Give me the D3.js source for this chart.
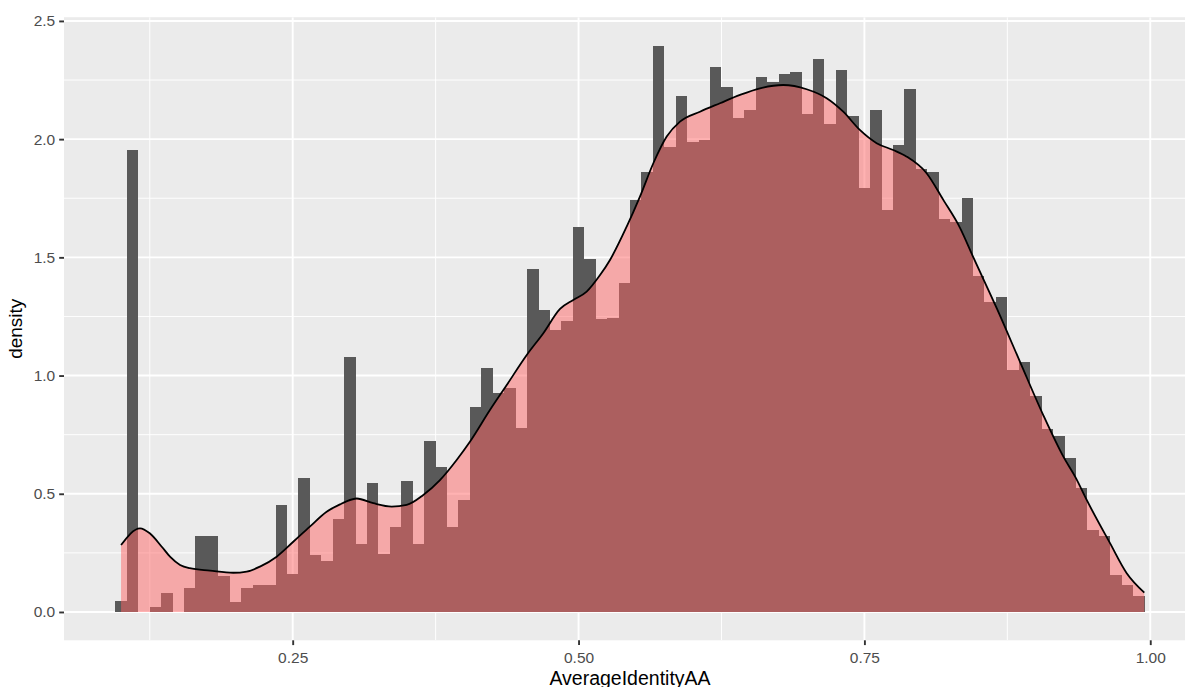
<!DOCTYPE html>
<html>
<head>
<meta charset="utf-8">
<script src="https://cdn.jsdelivr.net/npm/d3@7/dist/d3.min.js"></script>
<style>
  html, body { margin: 0; padding: 0; background: #ffffff; overflow: hidden; }
  svg { display: block; }
</style>
</head>
<body>
<div id="chart"></div>
<script>
// Histogram of AverageIdentityAA (bin width 0.01), shown as density
const binWidth = 0.01;
const binCenters = [
  0.10, 0.11, 0.12, 0.13, 0.14, 0.15, 0.16, 0.17, 0.18, 0.19,
  0.20, 0.21, 0.22, 0.23, 0.24, 0.25, 0.26, 0.27, 0.28, 0.29,
  0.30, 0.31, 0.32, 0.33, 0.34, 0.35, 0.36, 0.37, 0.38, 0.39,
  0.40, 0.41, 0.42, 0.43, 0.44, 0.45, 0.46, 0.47, 0.48, 0.49,
  0.50, 0.51, 0.52, 0.53, 0.54, 0.55, 0.56, 0.57, 0.58, 0.59,
  0.60, 0.61, 0.62, 0.63, 0.64, 0.65, 0.66, 0.67, 0.68, 0.69,
  0.70, 0.71, 0.72, 0.73, 0.74, 0.75, 0.76, 0.77, 0.78, 0.79,
  0.80, 0.81, 0.82, 0.83, 0.84, 0.85, 0.86, 0.87, 0.88, 0.89,
  0.90, 0.91, 0.92, 0.93, 0.94, 0.95, 0.96, 0.97, 0.98, 0.99
];
const binDensity = [
  0.045, 1.954, 0.000, 0.019, 0.079, 0.000, 0.100, 0.323, 0.323, 0.154,
  0.041, 0.100, 0.114, 0.114, 0.451, 0.162, 0.568, 0.242, 0.217, 0.392,
  1.080, 0.286, 0.546, 0.244, 0.361, 0.554, 0.286, 0.723, 0.613, 0.361,
  0.475, 0.866, 1.034, 0.926, 0.946, 0.780, 1.451, 1.277, 1.193, 1.232,
  1.630, 1.495, 1.238, 1.244, 1.393, 1.744, 1.860, 2.396, 1.968, 2.184,
  1.988, 1.995, 2.307, 2.222, 2.091, 2.124, 2.264, 2.243, 2.274, 2.286,
  2.105, 2.339, 2.063, 2.293, 2.097, 1.792, 2.124, 1.699, 1.975, 2.211,
  1.873, 1.860, 1.664, 1.651, 1.753, 1.421, 1.313, 1.332, 1.022, 1.056,
  0.914, 0.773, 0.745, 0.650, 0.526, 0.347, 0.323, 0.157, 0.114, 0.068
];

// Kernel density estimate of the same variable
const densityX = [
  0.0999, 0.1165, 0.1250, 0.1355, 0.1427, 0.1515, 0.1600, 0.1777, 0.1980, 0.2098,
  0.2214, 0.2360, 0.2505, 0.2650, 0.2797, 0.2914, 0.2970, 0.3060, 0.3205, 0.3366,
  0.3497, 0.3642, 0.3788, 0.3934, 0.4050, 0.4225, 0.4372, 0.4547, 0.4692, 0.4838,
  0.4954, 0.5071, 0.5188, 0.5275, 0.5421, 0.5537, 0.5654, 0.5771, 0.5887, 0.6062,
  0.6237, 0.6412, 0.6587, 0.6790, 0.6995, 0.7170, 0.7315, 0.7460, 0.7607, 0.7752,
  0.7870, 0.8044, 0.8190, 0.8336, 0.8450, 0.8657, 0.8860, 0.9064, 0.9240, 0.9350,
  0.9444, 0.9648, 0.9794, 0.9948
];
const densityY = [
  0.283, 0.354, 0.333, 0.276, 0.234, 0.199, 0.185, 0.175, 0.166, 0.171,
  0.192, 0.234, 0.297, 0.361, 0.424, 0.455, 0.468, 0.480, 0.460, 0.446,
  0.453, 0.495, 0.558, 0.643, 0.720, 0.854, 0.960, 1.087, 1.179, 1.282,
  1.320, 1.355, 1.425, 1.489, 1.630, 1.757, 1.898, 2.011, 2.074, 2.116,
  2.152, 2.187, 2.215, 2.229, 2.211, 2.173, 2.116, 2.039, 1.983, 1.954,
  1.926, 1.856, 1.743, 1.625, 1.503, 1.285, 1.059, 0.833, 0.657, 0.566,
  0.474, 0.291, 0.164, 0.082
];

// Axis breaks
const xMajor = [0.25, 0.50, 0.75, 1.00];
const xMinor = [0.125, 0.375, 0.625, 0.875];
const yMajor = [0.0, 0.5, 1.0, 1.5, 2.0, 2.5];
const yMinor = [0.25, 0.75, 1.25, 1.75, 2.25];
const xTitle = "AverageIdentityAA";
const yTitle = "density";

const W = 1185, H = 687;
const panel = { left: 64, right: 1196, top: 17.2, bottom: 640.3 };

// Data ranges expanded by 5% on each side
const xLo = binCenters[0] - binWidth / 2;
const xHi = binCenters[binCenters.length - 1] + binWidth / 2;
const xPad = (xHi - xLo) * 0.05;
const yHi = Math.max(d3.max(binDensity), d3.max(densityY));
const yPad = yHi * 0.05;

const x = d3.scaleLinear().domain([xLo - xPad, xHi + xPad]).range([panel.left, panel.right]);
const y = d3.scaleLinear().domain([-yPad, yHi + yPad]).range([panel.bottom, panel.top]);

const svg = d3.select("#chart").append("svg")
  .attr("width", W).attr("height", H)
  .style("font-family", "'Liberation Sans', Arial, Helvetica, sans-serif");

svg.append("defs").append("clipPath").attr("id", "panel-clip")
  .append("rect")
  .attr("x", panel.left).attr("y", panel.top)
  .attr("width", panel.right - panel.left).attr("height", panel.bottom - panel.top);

// Panel background
svg.append("rect")
  .attr("x", panel.left).attr("y", panel.top)
  .attr("width", panel.right - panel.left).attr("height", panel.bottom - panel.top)
  .attr("fill", "#EBEBEB");

const grid = svg.append("g").attr("clip-path", "url(#panel-clip)");
grid.selectAll("line.ymin").data(yMinor).join("line")
  .attr("x1", panel.left).attr("x2", panel.right)
  .attr("y1", d => y(d)).attr("y2", d => y(d))
  .attr("stroke", "#ffffff").attr("stroke-width", 0.95);
grid.selectAll("line.xmin").data(xMinor).join("line")
  .attr("y1", panel.top).attr("y2", panel.bottom)
  .attr("x1", d => x(d)).attr("x2", d => x(d))
  .attr("stroke", "#ffffff").attr("stroke-width", 0.95);
grid.selectAll("line.ymaj").data(yMajor).join("line")
  .attr("x1", panel.left).attr("x2", panel.right)
  .attr("y1", d => y(d)).attr("y2", d => y(d))
  .attr("stroke", "#ffffff").attr("stroke-width", 1.9);
grid.selectAll("line.xmaj").data(xMajor).join("line")
  .attr("y1", panel.top).attr("y2", panel.bottom)
  .attr("x1", d => x(d)).attr("x2", d => x(d))
  .attr("stroke", "#ffffff").attr("stroke-width", 1.9);

const plot = svg.append("g").attr("clip-path", "url(#panel-clip)");

// Histogram bars
const bins = binCenters.map((c, i) => ({ x0: c - binWidth / 2, x1: c + binWidth / 2, d: binDensity[i] }));
plot.append("g")
  .attr("shape-rendering", "crispEdges")
  .selectAll("rect.bar").data(bins).join("rect")
  .attr("class", "bar")
  .attr("x", b => x(b.x0))
  .attr("width", b => x(b.x1) - x(b.x0))
  .attr("y", b => y(b.d))
  .attr("height", b => y(0) - y(b.d))
  .attr("fill", "#595959");

// Density overlay
const pts = densityX.map((v, i) => [v, densityY[i]]);
const area = d3.area()
  .x(p => x(p[0])).y0(y(0)).y1(p => y(p[1]))
  .curve(d3.curveMonotoneX);
const line = d3.line()
  .x(p => x(p[0])).y(p => y(p[1]))
  .curve(d3.curveMonotoneX);

plot.append("path").datum(pts)
  .attr("d", area)
  .attr("fill", "#FF6666").attr("fill-opacity", 0.5);
plot.append("path").datum(pts)
  .attr("d", line)
  .attr("fill", "none").attr("stroke", "#000000")
  .attr("stroke-width", 1.8).attr("stroke-linejoin", "round");

// Axes
const xAxis = svg.append("g")
  .attr("transform", `translate(0,${panel.bottom})`)
  .call(d3.axisBottom(x).tickValues(xMajor).tickFormat(d3.format(".2f")).tickSize(4.8).tickPadding(6.5));
const yAxis = svg.append("g")
  .attr("transform", `translate(${panel.left},0)`)
  .call(d3.axisLeft(y).tickValues(yMajor).tickFormat(d3.format(".1f")).tickSize(4.8).tickPadding(4));

[xAxis, yAxis].forEach(a => {
  a.select(".domain").remove();
  a.selectAll(".tick line").attr("stroke", "#333333").attr("stroke-width", 1.9);
  a.selectAll(".tick text")
    .attr("fill", "#4D4D4D")
    .style("font-size", "15.5px")
    .style("font-family", "'Liberation Sans', Arial, Helvetica, sans-serif");
});

// Axis titles
svg.append("text")
  .attr("x", (panel.left + panel.right) / 2)
  .attr("y", 684.5)
  .attr("text-anchor", "middle")
  .attr("fill", "#000000")
  .style("font-size", "19.5px")
  .text(xTitle);

svg.append("text")
  .attr("transform", `translate(22,${(panel.top + panel.bottom) / 2}) rotate(-90)`)
  .attr("text-anchor", "middle")
  .attr("fill", "#000000")
  .style("font-size", "19px")
  .text(yTitle);
</script>
</body>
</html>
